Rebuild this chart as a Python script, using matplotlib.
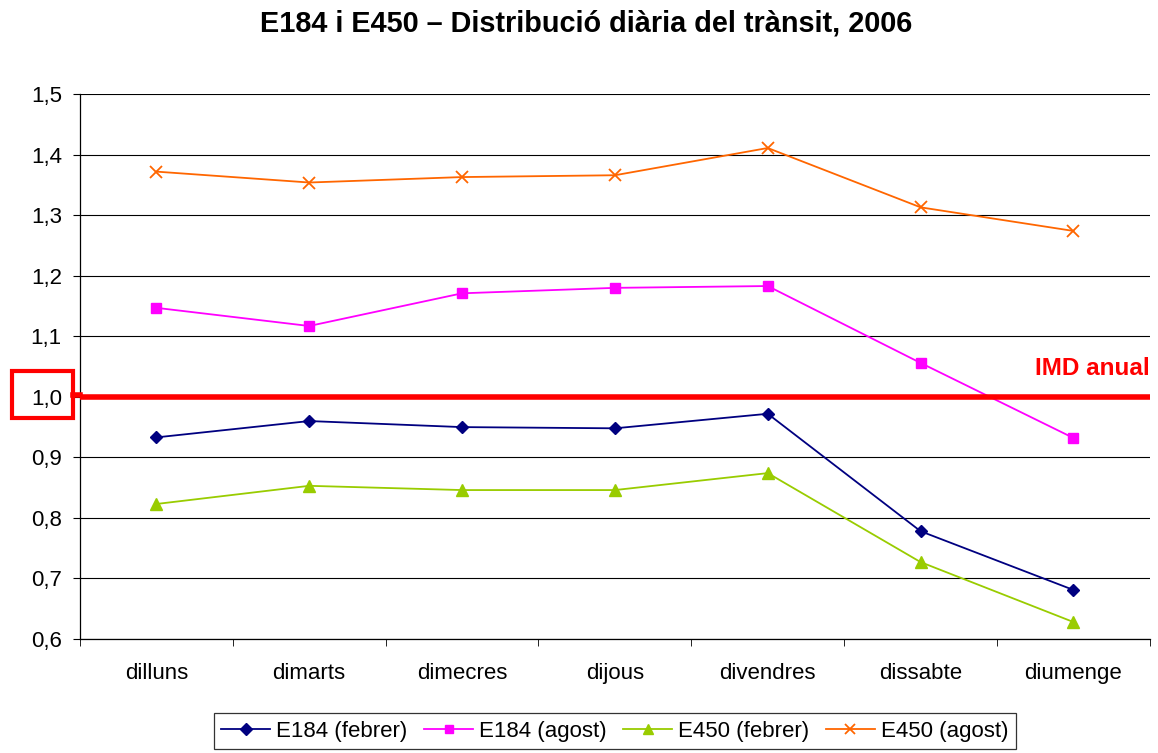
import matplotlib.pyplot as plt
from matplotlib.patches import Rectangle
from matplotlib.lines import Line2D
from matplotlib.ticker import FixedLocator

plt.rcParams['font.family'] = ['Liberation Sans', 'DejaVu Sans']

dies = ['dilluns', 'dimarts', 'dimecres', 'dijous', 'divendres', 'dissabte', 'diumenge']
e184_febrer = [0.933, 0.960, 0.950, 0.948, 0.972, 0.778, 0.681]
e184_agost = [1.147, 1.117, 1.171, 1.180, 1.183, 1.056, 0.932]
e450_febrer = [0.823, 0.853, 0.846, 0.846, 0.874, 0.727, 0.628]
e450_agost = [1.372, 1.354, 1.363, 1.366, 1.411, 1.313, 1.274]
y_ticks = [0.6, 0.7, 0.8, 0.9, 1.0, 1.1, 1.2, 1.3, 1.4, 1.5]

fig = plt.figure(figsize=(11.58, 7.53), dpi=100)
ax = fig.add_axes([0.069, 0.1514, 0.924, 0.7236])
x = list(range(len(dies)))

ax.plot(x, e184_febrer, color='#000080', marker='D', markersize=6.5, lw=1.3, label='E184 (febrer)')
ax.plot(x, e184_agost, color='#FF00FF', marker='s', markersize=7, lw=1.3, label='E184 (agost)')
ax.plot(x, e450_febrer, color='#99CC00', marker='^', markersize=8, lw=1.3, label='E450 (febrer)')
ax.plot(x, e450_agost, color='#FF6600', marker='x', markersize=8, mew=1.3, lw=1.3, label='E450 (agost)')

ax.axhline(1.0, color='#FF0000', lw=4, zorder=5)
ax.text(6.5, 1.027, 'IMD anual', color='#FF0000', fontsize=17.5, fontweight='bold',
        ha='right', va='bottom')

ax.set_xlim(-0.5, 6.5)
ax.set_ylim(0.6, 1.5)
ax.set_yticks(y_ticks)
ax.set_yticklabels([f'{v:.1f}'.replace('.', ',') for v in y_ticks], fontsize=16)
ax.set_xticks(x)
ax.set_xticklabels(dies, fontsize=16)
ax.xaxis.set_minor_locator(FixedLocator([i - 0.5 for i in range(len(dies) + 1)]))
ax.tick_params(axis='x', which='major', length=0, pad=17)
ax.tick_params(axis='x', which='minor', length=5, direction='out')
ax.tick_params(axis='y', length=5, direction='out', pad=8)
ax.grid(axis='y', color='black', lw=0.8)
ax.set_axisbelow(True)
for s in ['top', 'right']:
    ax.spines[s].set_visible(False)
for s in ['left', 'bottom']:
    ax.spines[s].set_color('black')
    ax.spines[s].set_linewidth(0.9)

# caixa vermella al voltant de l'etiqueta 1,0
fig.patches.append(Rectangle((12 / 1158, 1 - 418 / 753), 61 / 1158, 47 / 753,
                             transform=fig.transFigure, fill=False,
                             edgecolor='#FF0000', lw=3))
fig.lines.append(Line2D([73 / 1158, 80 / 1158], [1 - 395 / 753, 1 - 395 / 753],
                        transform=fig.transFigure, color='#FF0000', lw=4))

fig.suptitle('E184 i E450 – Distribució diària del trànsit, 2006', x=0.506, y=0.987,
             fontsize=20.8, fontweight='bold')

leg = fig.legend(loc='lower center', bbox_to_anchor=(0.531, -0.004), ncol=4,
                 fontsize=16, frameon=True, fancybox=False, edgecolor='black',
                 handlelength=2.2, handletextpad=0.27, columnspacing=0.75,
                 borderpad=0.35, borderaxespad=0.3, markerscale=0.9)
leg.get_frame().set_linewidth(0.9)

fig.savefig('out.png', dpi=100)
